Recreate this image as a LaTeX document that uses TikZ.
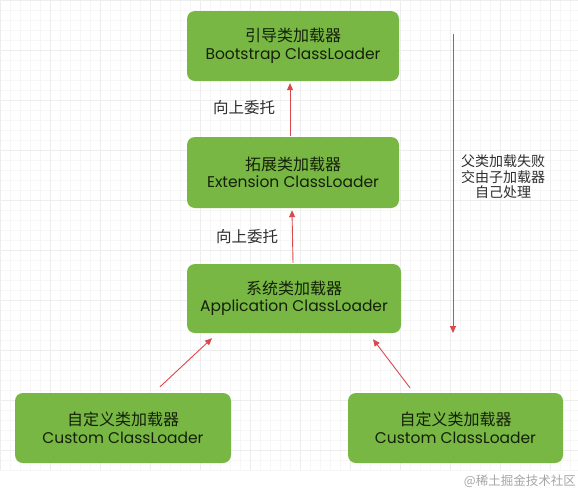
\documentclass[tikz,border=0pt]{standalone}
\usepackage{fontspec}
\setmainfont{Poppins}
\newfontfamily\cjk{Noto Sans CJK SC}
\usetikzlibrary{arrows.meta}
\definecolor{boxgreen}{HTML}{78B743}
\definecolor{boxtext}{HTML}{14200A}
\definecolor{arrred}{HTML}{D9484A}
\definecolor{labtext}{HTML}{2E2E2E}
\tikzset{
  loader/.style={fill=boxgreen, rounded corners=8pt, text=boxtext, align=center,
    inner sep=0pt, font=\fontsize{15.5}{17.5}\selectfont},
  arr/.style={draw=arrred, line width=0.9pt, -{Triangle[length=7pt,width=6pt]}},
  lab/.style={text=labtext, font=\cjk\fontsize{15.5}{17}\selectfont, inner sep=0pt},
  side/.style={text=labtext, font=\cjk\fontsize{14}{15.5}\selectfont, align=center, inner sep=0pt},
}
\newcommand{\cn}[1]{{\cjk\fontsize{16}{17.5}\selectfont #1}}
\begin{document}
\begin{tikzpicture}[x=1pt,y=-1pt]
\useasboundingbox (0,0) rectangle (578,491);
\fill[white] (0,0) rectangle (578,491);
\draw[gray!7, line width=0.4pt] (0,0) grid[step=10pt] (578,470);
\draw[gray!14, line width=0.5pt] (0,0) grid[step=50pt] (578,470);

\node[loader, minimum width=212pt, minimum height=70pt] (boot) at (293,46)
  {\cn{引导类加载器}\\Bootstrap ClassLoader};
\node[loader, minimum width=212pt, minimum height=71pt] (ext) at (293,172.5)
  {\cn{拓展类加载器}\\Extension ClassLoader};
\node[loader, minimum width=214pt, minimum height=69pt] (app) at (294,298.5)
  {\cn{系统类加载器}\\Application ClassLoader};
\node[loader, minimum width=216pt, minimum height=70pt] (cl) at (123,428)
  {\cn{自定义类加载器}\\Custom ClassLoader};
\node[loader, minimum width=215pt, minimum height=70pt] (cr) at (455.5,428)
  {\cn{自定义类加载器}\\Custom ClassLoader};

\draw[arr] ([xshift=-3pt,yshift=1pt]ext.north) -- ([xshift=-3pt,yshift=-2pt]boot.south);
\draw[arr] ([xshift=-1pt,yshift=1pt]app.north) -- ([xshift=-1pt,yshift=-2pt]ext.south);
\draw[arr] ([xshift=37pt,yshift=6pt]cl.north) -- ([xshift=-82pt,yshift=-5pt]app.south);
\draw[arr] ([xshift=-45.5pt,yshift=5pt]cr.north) -- ([xshift=79pt,yshift=-6pt]app.south);

\node[lab] (l1) at (244,108) {向上委托};
\node[lab] (l2) at (247,237) {向上委托};

\coordinate (ftop) at (453,34);
\coordinate (fbot) at (453,333);
\draw[arr] (ftop) -- (fbot);
\node[side] (fail) at (503,177) {父类加载失败\\交由子加载器\\自己处理};

\node[text=gray!70, font=\cjk\fontsize{12.5}{14}\selectfont, anchor=east, inner sep=0pt] (wm) at (576,481) {@稀土掘金技术社区};
\end{tikzpicture}
\end{document}
